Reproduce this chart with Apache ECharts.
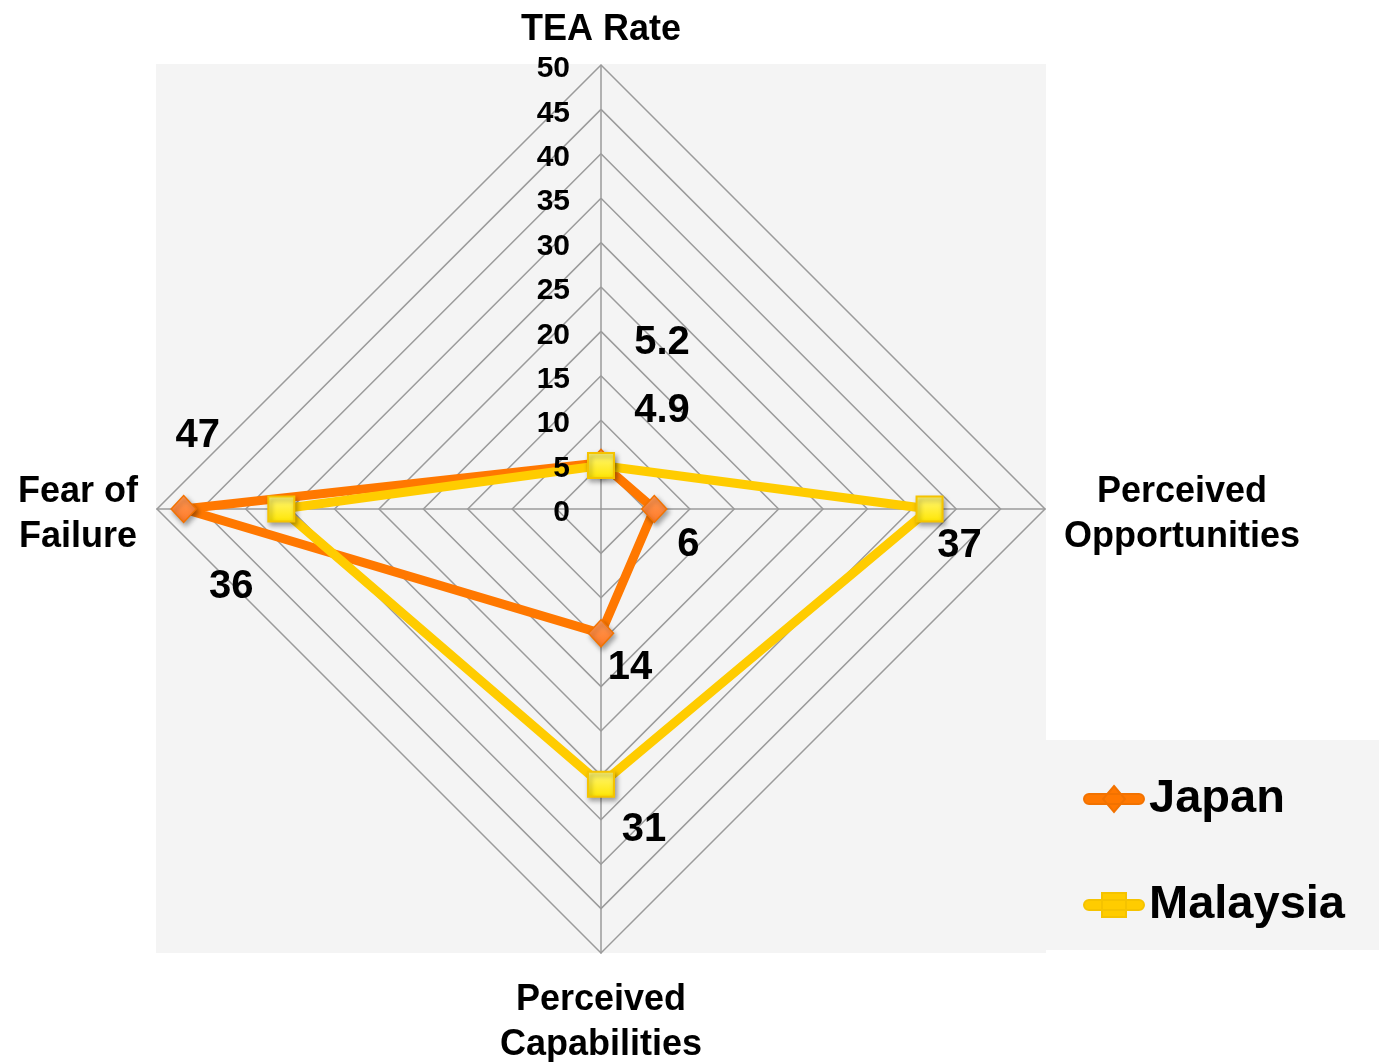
<!DOCTYPE html>
<html>
<head>
<meta charset="utf-8">
<script src="https://cdn.jsdelivr.net/npm/echarts@6/dist/echarts.min.js"></script>
<style>
  html, body { margin: 0; padding: 0; background: #ffffff; }
  #chart { width: 1379px; height: 1062px; }
</style>
</head>
<body>
<div id="chart"></div>
<script>
// Radar axes, listed counter-clockwise starting at the top (ECharts radar order)
const indicatorNames = ['TEA Rate', 'Fear of\nFailure', 'Perceived\nCapabilities', 'Perceived\nOpportunities'];
const japanValues = [5.2, 47, 14, 6];
const malaysiaValues = [4.9, 36, 31, 37];
const seriesNames = ['Japan', 'Malaysia'];
const axisMax = 50;
const tickStep = 5;

// Hand-placed value label offsets (px) for each point, same axis order
const japanLabelOffsets = [[61, -120], [14, -73], [29, 35], [34, 36]];
const malaysiaLabelOffsets = [[61, -55], [-50, 78], [43, 46], [30, 37]];

const FONT = '"Liberation Sans", Arial, Helvetica, sans-serif';
const CENTER = [601, 509];
const RADIUS = 444;
const GRID_COLOR = '#9b9b9b';
const PANEL = '#f4f4f4';

const JAPAN_LINE = '#ff7800';
const MALAYSIA_LINE = '#ffcc00';

const chart = echarts.init(document.getElementById('chart'), null, { renderer: 'canvas' });

// Axis names: lines centred on each other; line boxes tuned so text sits just off the vertex
function nameRich(name) {
  const lines = name.split('\n');
  if (lines.length === 1) return '{t|' + lines[0] + '}';
  return '{a|' + lines[0] + '}\n{b|' + lines[1] + '}';
}

function labelSeries(values, offsets) {
  const n = indicatorNames.length;
  return {
    type: 'scatter',
    coordinateSystem: 'polar',
    symbolSize: 0,
    silent: true,
    z: 5,
    itemStyle: { opacity: 1 },
    data: values.map((v, i) => ({
      value: [v, i * 360 / n],
      label: { offset: offsets[i] }
    })),
    label: {
      show: true,
      position: 'inside',
      formatter: p => String(p.value[0]),
      color: '#000',
      fontSize: 40,
      fontWeight: 'bold',
      fontFamily: FONT
    }
  };
}

const legendIconJapan = 'path://M5,8 L55,8 A5,5 0 0 1 55,18 L5,18 A5,5 0 0 1 5,8 Z M30,0 L41,13 L30,26 L19,13 Z';
const legendIconMalaysia = 'path://M5,8 L55,8 A5,5 0 0 1 55,18 L5,18 A5,5 0 0 1 5,8 Z M18,1 L42,1 L42,25 L18,25 Z';

const nameToken = { align: 'center', color: '#000', fontSize: 36, fontWeight: 'bold', fontFamily: FONT };

const option = {
  animation: false,
  backgroundColor: '#ffffff',
  graphic: {
    elements: [
      { type: 'rect', z: -100, silent: true,
        shape: { x: 156, y: 64, width: 890, height: 889 },
        style: { fill: PANEL } },
      { type: 'rect', z: -100, silent: true,
        shape: { x: 1046, y: 740, width: 333, height: 210 },
        style: { fill: PANEL } }
    ]
  },
  legend: {
    orient: 'vertical',
    left: 1078,
    top: 766,
    itemWidth: 60,
    itemHeight: 26,
    itemGap: 50,
    selectedMode: false,
    textStyle: {
      color: '#000', fontSize: 47, fontWeight: 'bold', fontFamily: FONT, lineHeight: 56
    },
    data: [
      { name: seriesNames[0], icon: legendIconJapan, itemStyle: { color: JAPAN_LINE } },
      { name: seriesNames[1], icon: legendIconMalaysia, itemStyle: { color: MALAYSIA_LINE } }
    ]
  },
  radar: {
    center: CENTER,
    radius: RADIUS,
    startAngle: 90,
    shape: 'polygon',
    splitNumber: axisMax / tickStep,
    indicator: indicatorNames.map(name => ({ name: name, min: 0, max: axisMax })),
    nameGap: 19,
    axisName: {
      formatter: nameRich,
      color: '#000',
      rich: {
        t: Object.assign({ lineHeight: 31 }, nameToken),
        a: Object.assign({ lineHeight: 57 }, nameToken),
        b: Object.assign({ lineHeight: 33 }, nameToken)
      }
    },
    axisLine: { lineStyle: { color: GRID_COLOR, width: 1.5 } },
    splitLine: { lineStyle: { color: GRID_COLOR, width: 1.5 } },
    splitArea: { show: false },
    axisTick: { show: false },
    axisLabel: { show: false }
  },
  polar: {
    center: CENTER,
    radius: RADIUS
  },
  angleAxis: {
    type: 'value',
    min: 0,
    max: 360,
    startAngle: 90,
    clockwise: false,
    axisLine: { show: false },
    axisTick: { show: false },
    axisLabel: { show: false },
    splitLine: { show: false }
  },
  radiusAxis: {
    type: 'value',
    min: 0,
    max: axisMax,
    interval: tickStep,
    axisLine: { show: false },
    axisTick: { show: false },
    splitLine: { show: false },
    axisLabel: {
      show: true,
      margin: 31,
      verticalAlign: 'top',
      lineHeight: 8,
      color: '#000',
      fontSize: 30,
      fontWeight: 'bold',
      fontFamily: FONT
    },
    z: 6
  },
  series: [
    {
      type: 'radar',
      z: 3,
      data: [
        {
          name: seriesNames[0],
          value: japanValues,
          symbol: 'diamond',
          symbolSize: [25, 27],
          lineStyle: { color: JAPAN_LINE, width: 9 },
          itemStyle: {
            color: new echarts.graphic.LinearGradient(0, 0, 0, 1, [
              { offset: 0, color: '#ff9a58' },
              { offset: 1, color: '#ff7a26' }
            ]),
            borderColor: '#f27200',
            borderWidth: 1.5,
            shadowColor: 'rgba(0,0,0,0.35)',
            shadowBlur: 5,
            shadowOffsetX: 2,
            shadowOffsetY: 3
          }
        },
        {
          name: seriesNames[1],
          value: malaysiaValues,
          symbol: 'rect',
          symbolSize: [26, 25],
          lineStyle: { color: MALAYSIA_LINE, width: 9 },
          itemStyle: {
            color: new echarts.graphic.LinearGradient(0, 0, 0, 1, [
              { offset: 0, color: '#fff77a' },
              { offset: 1, color: '#ffe600' }
            ]),
            borderColor: '#f5c300',
            borderWidth: 2,
            shadowColor: 'rgba(0,0,0,0.35)',
            shadowBlur: 5,
            shadowOffsetX: 2,
            shadowOffsetY: 3
          }
        }
      ]
    },
    labelSeries(japanValues, japanLabelOffsets),
    labelSeries(malaysiaValues, malaysiaLabelOffsets)
  ]
};

chart.setOption(option);
</script>
</body>
</html>
